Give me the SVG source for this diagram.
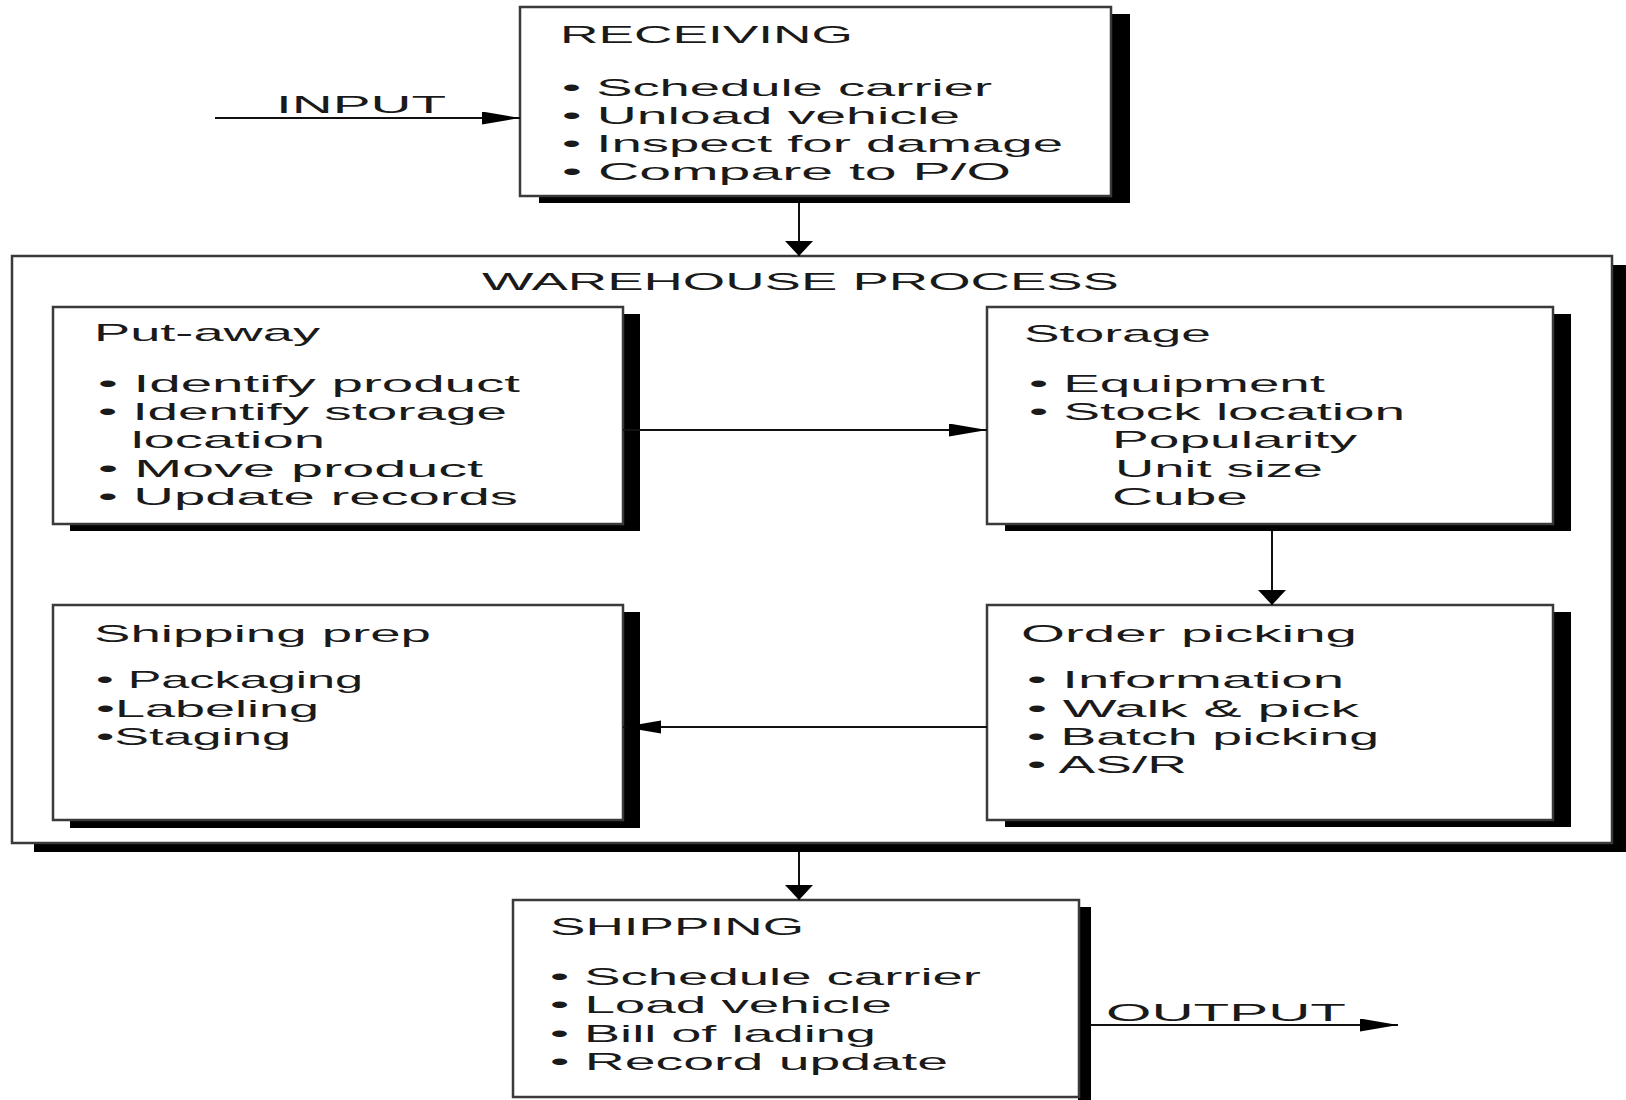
<svg xmlns="http://www.w3.org/2000/svg" width="1626" height="1100" viewBox="0 0 1626 1100">
<defs>
<style>
.shadow{fill:#000}
.box{fill:#fff;stroke:#3a3a3a;stroke-width:2.5}
.outer{fill:#fff;stroke:#3a3a3a;stroke-width:2.5}
.t{font-family:"Liberation Sans",Arial,sans-serif;font-size:24px;fill:#1a1a1a}
.conn{stroke:#111;stroke-width:2;fill:none}
</style>
<marker id="arrH" markerUnits="userSpaceOnUse" markerWidth="40" markerHeight="14" refX="38" refY="6.5" orient="auto">
<path d="M0,0 L38,6.5 L0,13 Z" fill="#000"/>
</marker>
<marker id="arrV" markerUnits="userSpaceOnUse" markerWidth="16" markerHeight="30" refX="15" refY="14" orient="auto">
<path d="M0,0 L15,14 L0,28 Z" fill="#000"/>
</marker>
</defs>
<rect width="1626" height="1100" fill="#fff"/>

<g id="warehouse">
<rect class="shadow" x="34" y="265" width="1600" height="587"/>
<rect class="outer" x="12" y="256" width="1600" height="587"/>
<text class="t" x="482" y="290" textLength="637" lengthAdjust="spacingAndGlyphs">WAREHOUSE PROCESS</text>
</g>

<g id="receiving">
<rect class="shadow" x="539" y="14" width="591" height="189"/>
<rect class="box" x="520" y="7" width="591" height="189"/>
<text class="t" x="560" y="43" textLength="293" lengthAdjust="spacingAndGlyphs">RECEIVING</text>
<text class="t" x="562" y="96" textLength="430" lengthAdjust="spacingAndGlyphs">• Schedule carrier</text>
<text class="t" x="562" y="124" textLength="398" lengthAdjust="spacingAndGlyphs">• Unload vehicle</text>
<text class="t" x="562" y="152" textLength="501" lengthAdjust="spacingAndGlyphs">• Inspect for damage</text>
<text class="t" x="562" y="180" textLength="449" lengthAdjust="spacingAndGlyphs">• Compare to P/O</text>
</g>

<g id="put-away">
<rect class="shadow" x="70" y="314" width="570" height="217"/>
<rect class="box" x="53" y="307" width="570" height="217"/>
<text class="t" x="94" y="341" textLength="226" lengthAdjust="spacingAndGlyphs">Put-away</text>
<text class="t" x="98" y="392" textLength="422" lengthAdjust="spacingAndGlyphs">• Identify product</text>
<text class="t" x="98" y="420" textLength="409" lengthAdjust="spacingAndGlyphs">• Identify storage</text>
<text class="t" x="131" y="448" textLength="194" lengthAdjust="spacingAndGlyphs">location</text>
<text class="t" x="98" y="477" textLength="385" lengthAdjust="spacingAndGlyphs">• Move product</text>
<text class="t" x="98" y="505" textLength="420" lengthAdjust="spacingAndGlyphs">• Update records</text>
</g>

<g id="storage">
<rect class="shadow" x="1005" y="314" width="566" height="217"/>
<rect class="box" x="987" y="307" width="566" height="217"/>
<text class="t" x="1024" y="342" textLength="187" lengthAdjust="spacingAndGlyphs">Storage</text>
<text class="t" x="1029" y="392" textLength="296" lengthAdjust="spacingAndGlyphs">• Equipment</text>
<text class="t" x="1029" y="420" textLength="376" lengthAdjust="spacingAndGlyphs">• Stock location</text>
<text class="t" x="1112" y="448" textLength="245" lengthAdjust="spacingAndGlyphs">Popularity</text>
<text class="t" x="1115" y="477" textLength="208" lengthAdjust="spacingAndGlyphs">Unit size</text>
<text class="t" x="1112" y="505" textLength="136" lengthAdjust="spacingAndGlyphs">Cube</text>
</g>

<g id="shipping-prep">
<rect class="shadow" x="70" y="612" width="570" height="216"/>
<rect class="box" x="53" y="605" width="570" height="215"/>
<text class="t" x="94" y="642" textLength="337" lengthAdjust="spacingAndGlyphs">Shipping prep</text>
<text class="t" x="96" y="688" textLength="267" lengthAdjust="spacingAndGlyphs">• Packaging</text>
<text class="t" x="96" y="717" textLength="223" lengthAdjust="spacingAndGlyphs">•Labeling</text>
<text class="t" x="96" y="745" textLength="195" lengthAdjust="spacingAndGlyphs">•Staging</text>
</g>

<g id="order-picking">
<rect class="shadow" x="1005" y="612" width="566" height="215"/>
<rect class="box" x="987" y="605" width="566" height="215"/>
<text class="t" x="1021" y="642" textLength="336" lengthAdjust="spacingAndGlyphs">Order picking</text>
<text class="t" x="1027" y="688" textLength="317" lengthAdjust="spacingAndGlyphs">• Information</text>
<text class="t" x="1027" y="717" textLength="332" lengthAdjust="spacingAndGlyphs">• Walk &amp; pick</text>
<text class="t" x="1027" y="745" textLength="352" lengthAdjust="spacingAndGlyphs">• Batch picking</text>
<text class="t" x="1027" y="773" textLength="160" lengthAdjust="spacingAndGlyphs">• AS/R</text>
</g>

<g id="shipping">
<rect class="shadow" x="1078" y="907" width="13" height="200"/>
<rect class="box" x="513" y="900" width="566" height="197"/>
<text class="t" x="550" y="935" textLength="254" lengthAdjust="spacingAndGlyphs">SHIPPING</text>
<text class="t" x="550" y="985" textLength="431" lengthAdjust="spacingAndGlyphs">• Schedule carrier</text>
<text class="t" x="550" y="1013" textLength="342" lengthAdjust="spacingAndGlyphs">• Load vehicle</text>
<text class="t" x="550" y="1042" textLength="326" lengthAdjust="spacingAndGlyphs">• Bill of lading</text>
<text class="t" x="550" y="1070" textLength="398" lengthAdjust="spacingAndGlyphs">• Record update</text>
</g>

<g id="connectors">
<line class="conn" x1="215" y1="118" x2="520" y2="118" marker-end="url(#arrH)"/>
<text class="t" x="276" y="113" textLength="170" lengthAdjust="spacingAndGlyphs">INPUT</text>
<line class="conn" x1="799" y1="203" x2="799" y2="256" marker-end="url(#arrV)"/>
<line class="conn" x1="623" y1="430" x2="987" y2="430" marker-end="url(#arrH)"/>
<line class="conn" x1="1272" y1="531" x2="1272" y2="605" marker-end="url(#arrV)"/>
<line class="conn" x1="987" y1="727" x2="623" y2="727" marker-end="url(#arrH)"/>
<line class="conn" x1="799" y1="852" x2="799" y2="900" marker-end="url(#arrV)"/>
<line class="conn" x1="1091" y1="1025" x2="1398" y2="1025" marker-end="url(#arrH)"/>
<text class="t" x="1106" y="1021" textLength="240" lengthAdjust="spacingAndGlyphs">OUTPUT</text>
</g>
</svg>
